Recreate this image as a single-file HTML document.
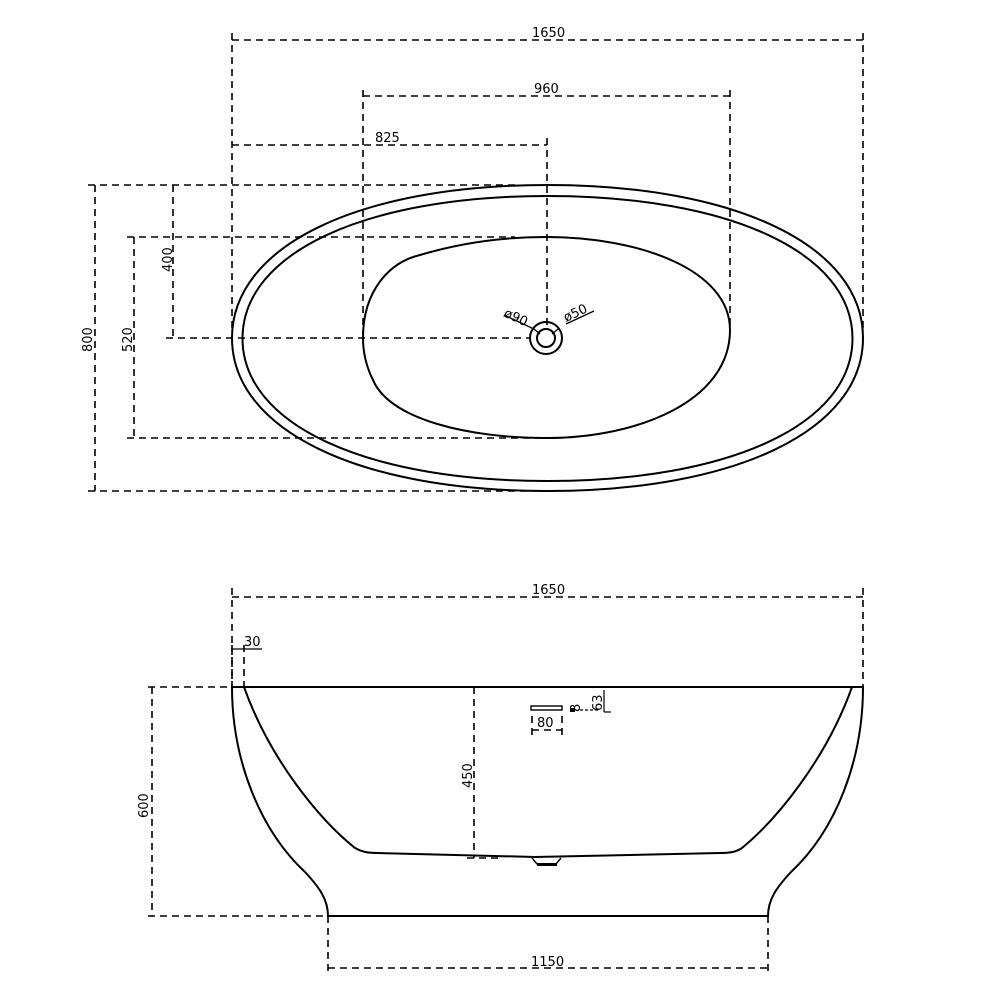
<!DOCTYPE html>
<html><head><meta charset="utf-8"><style>
html,body{margin:0;padding:0;background:#fff}
svg{display:block}
text{font-family:"DejaVu Sans","Liberation Sans",sans-serif;font-size:13px;fill:#000}
.d{stroke:#000;stroke-width:1.6;stroke-dasharray:7 5;fill:none}
.s{stroke:#000;stroke-width:2;fill:none}
</style></head><body>
<svg width="1000" height="1000" viewBox="0 0 1000 1000" xmlns="http://www.w3.org/2000/svg">
<!-- TOP VIEW -->
<path class="s" d="M232,338 C232,246.2 358.2,185 547.5,185 C736.8,185 863,246.2 863,338 C863,429.8 736.8,491 547.5,491 C358.2,491 232,429.8 232,338Z"/>
<path class="s" stroke-width="1.6" d="M242.5,338.5 C242.5,253 364.5,196 547.5,196 C730.5,196 852.5,253 852.5,338.5 C852.5,424 730.5,481 547.5,481 C364.5,481 242.5,424 242.5,338.5Z"/>
<path class="s" d="M363,338 C363,290 390,262 420,255 C460,243 500,237 546,237 C640,237 730,270 730,330 C730,400 640,438 546,438 C470,438 390,420 373,380 C366,366 363,352 363,338 Z"/>
<circle class="s" cx="546" cy="338" r="16" stroke-width="2.2"/>
<circle class="s" cx="546" cy="338" r="9" stroke-width="1.6"/>
<line x1="534" y1="329" x2="540" y2="334" stroke="#000" stroke-width="1.3"/>
<line x1="558" y1="329" x2="552" y2="334" stroke="#000" stroke-width="1.3"/>
<line x1="504" y1="315" x2="534" y2="329" stroke="#000" stroke-width="1.3"/>
<line x1="566" y1="324" x2="594" y2="311" stroke="#000" stroke-width="1.3"/>
<text transform="translate(503,316) rotate(25)">ø90</text>
<text transform="translate(566,322) rotate(-25)">ø50</text>

<!-- top dims -->
<line class="d" x1="232" y1="40" x2="863" y2="40"/>
<line class="d" x1="232" y1="33" x2="232" y2="330"/>
<line class="d" x1="863" y1="33" x2="863" y2="330"/>
<text x="532" y="37">1650</text>
<line class="d" x1="363" y1="96" x2="730" y2="96"/>
<line class="d" x1="363" y1="90" x2="363" y2="338"/>
<line class="d" x1="730" y1="90" x2="730" y2="325"/>
<text x="534" y="93">960</text>
<line class="d" x1="232" y1="145" x2="547" y2="145"/>
<line class="d" x1="547" y1="138" x2="547" y2="325"/>
<text x="375" y="142">825</text>
<line class="d" x1="88" y1="185" x2="520" y2="185"/>
<line class="d" x1="88" y1="491" x2="545" y2="491"/>
<line class="d" x1="95" y1="185" x2="95" y2="491"/>
<text transform="translate(92,352) rotate(-90)">800</text>
<line class="d" x1="127" y1="237" x2="515" y2="237"/>
<line class="d" x1="127" y1="438" x2="540" y2="438"/>
<line class="d" x1="134" y1="237" x2="134" y2="438"/>
<text transform="translate(132,352) rotate(-90)">520</text>
<line class="d" x1="173" y1="185" x2="173" y2="338"/>
<line class="d" x1="166" y1="338" x2="530" y2="338"/>
<text transform="translate(172,272) rotate(-90)">400</text>

<!-- SIDE VIEW -->
<line class="s" x1="231" y1="687" x2="864" y2="687"/>
<path class="s" d="M232,687 C232,760 260,830 305,872 C320,888 328,900 328,916 L768,916 C768,900 776,888 791,872 C836,830 863,760 863,687"/>
<path class="s" d="M244,687 C270,760 320,820 355,848 C362,852 368,853 378,853 L535,857 L720,853 C730,853 736,852 742,848 C776,820 826,760 852,687" stroke-width="1.8"/>
<path d="M532,858 L537,864 L556,864 L561,858" stroke="#000" stroke-width="1.4" fill="none"/>
<rect x="537" y="863" width="20" height="3" fill="#000"/>
<line class="d" x1="474" y1="687" x2="474" y2="858"/>
<line class="d" x1="467" y1="858" x2="500" y2="858"/>
<text transform="translate(472,788) rotate(-90)">450</text>
<rect x="531" y="706" width="31" height="4" fill="none" stroke="#000" stroke-width="1.4"/>
<line class="d" x1="532" y1="716" x2="532" y2="740" stroke-dasharray="4 3"/>
<line class="d" x1="562" y1="716" x2="562" y2="740" stroke-dasharray="4 3"/>
<line class="d" x1="532" y1="730" x2="562" y2="730" stroke-dasharray="4 3"/>
<text x="537" y="727">80</text>
<rect x="570" y="708" width="5" height="4" fill="#000"/>
<text transform="translate(580,712) rotate(-90)" font-size="12">8</text>
<line x1="580" y1="710" x2="600" y2="710" stroke="#000" stroke-width="1.2" stroke-dasharray="3 2"/>
<line x1="604" y1="690" x2="604" y2="712" stroke="#000" stroke-width="1.2"/>
<line x1="604" y1="712" x2="611" y2="712" stroke="#000" stroke-width="1.2"/>
<text transform="translate(602,711) rotate(-90)" font-size="12">63</text>

<line class="d" x1="232" y1="597" x2="863" y2="597"/>
<line class="d" x1="232" y1="588" x2="232" y2="686"/>
<line class="d" x1="863" y1="588" x2="863" y2="686"/>
<text x="532" y="594">1650</text>
<line class="d" x1="232" y1="645" x2="232" y2="686" stroke-dasharray="5 4"/>
<line class="d" x1="244" y1="645" x2="244" y2="686" stroke-dasharray="5 4"/>
<line x1="232" y1="649" x2="262" y2="649" stroke="#000" stroke-width="1.3"/>
<text x="244" y="646">30</text>
<line class="d" x1="148" y1="687" x2="232" y2="687"/>
<line class="d" x1="148" y1="916" x2="328" y2="916"/>
<line class="d" x1="152" y1="687" x2="152" y2="916"/>
<text transform="translate(148,818) rotate(-90)">600</text>
<line class="d" x1="328" y1="916" x2="328" y2="975"/>
<line class="d" x1="768" y1="916" x2="768" y2="975"/>
<line class="d" x1="328" y1="968" x2="768" y2="968"/>
<text x="531" y="966">1150</text>
</svg>
</body></html>
